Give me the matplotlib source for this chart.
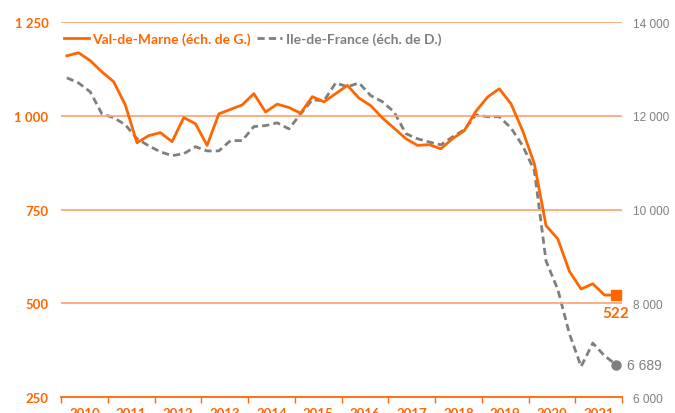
import numpy as np
import matplotlib
matplotlib.use("Agg")
import matplotlib.pyplot as plt
from matplotlib.lines import Line2D

plt.rcParams['font.family'] = ['Lato', 'DejaVu Sans']

# quarterly series, 2010 Q1 -> 2021 Q4
years = list(range(2010, 2022))
valDeMarne = [1160, 1168, 1147, 1117, 1091, 1029, 928, 947, 955, 931, 995, 979,
              921, 1005, 1017, 1029, 1059, 1010, 1031, 1022, 1007, 1051, 1037, 1059,
              1081, 1047, 1027, 994, 967, 939, 921, 923, 912, 939, 960, 1012,
              1050, 1072, 1032, 960, 872, 707, 672, 585, 538, 552, 522, 522]
ileDeFrance = [12810, 12700, 12510, 12040, 11960, 11810, 11510, 11360, 11230, 11150, 11190, 11340,
               11250, 11250, 11470, 11470, 11770, 11790, 11850, 11720, 12040, 12340, 12320, 12700,
               12620, 12700, 12430, 12300, 12080, 11620, 11510, 11440, 11380, 11550, 11700, 12020,
               11980, 11980, 11740, 11360, 10830, 8900, 8300, 7350, 6650, 7150, 6880, 6689]
leftTicks = [250, 500, 750, 1000, 1250]
rightTicks = [6000, 8000, 10000, 12000, 14000]

ORANGE = "#FF6600"
GRID = "#FBA878"
GREY = "#7F7F7F"
DASH = (2.6, 1.5)

def fmt(v):
    return f"{v:,}".replace(",", " ")

x = [years[0] + (i + 0.5) / 4 for i in range(len(valDeMarne))]

fig = plt.figure(figsize=(6.75, 4.14), dpi=100)
ax = fig.add_axes([0.0904, 0.0386, 0.8311, 0.9058])
ax2 = ax.twinx()
ax.set_zorder(ax2.get_zorder() + 1)
ax.patch.set_visible(False)

# gridlines from the left scale
for v in leftTicks[1:]:
    ax.axhline(v, color=GRID, lw=1.3, zorder=0)

ax.plot(x, valDeMarne, color=ORANGE, lw=2.0, zorder=3)
ax.plot(x[-1], valDeMarne[-1], marker="s", ms=7.5, color=ORANGE, zorder=4)
ax.annotate(fmt(valDeMarne[-1]), (x[-1], valDeMarne[-1]), xytext=(0, -8),
            textcoords="offset points", ha="center", va="top",
            color=ORANGE, fontsize=11, fontweight="bold")

ax2.plot(x, ileDeFrance, color=GREY, lw=2.0, dashes=DASH, zorder=2)
ax2.plot(x[-1], ileDeFrance[-1], marker="o", ms=6.5, color=GREY, zorder=3)
ax2.annotate(fmt(ileDeFrance[-1]), (x[-1], ileDeFrance[-1]), xytext=(8, 0),
             textcoords="offset points", ha="left", va="center",
             color=GREY, fontsize=10, family="Liberation Sans")

ax.set_xlim(years[0], years[-1] + 1)
ax.set_ylim(leftTicks[0], leftTicks[-1])
ax2.set_ylim(rightTicks[0], rightTicks[-1])

ax.set_yticks(leftTicks)
ax.set_yticklabels([fmt(v) for v in leftTicks])
ax2.set_yticks(rightTicks)
ax2.set_yticklabels([fmt(v) for v in rightTicks])
ax.tick_params(axis="y", length=0, pad=9, labelcolor=ORANGE, labelsize=9.5)
for t in ax.get_yticklabels():
    t.set_fontweight("bold")
ax2.tick_params(axis="y", length=0, pad=8, labelcolor=GREY, labelsize=8.5)
for t in ax2.get_yticklabels():
    t.set_family("Liberation Sans")

ax.set_xticks(range(years[0], years[-1] + 2))
ax.set_xticklabels([])
ax.set_xticks([y + 0.5 for y in years], minor=True)
ax.set_xticklabels([str(y) for y in years], minor=True)
ax.tick_params(axis="x", which="major", length=4, color=ORANGE, width=1)
ax.tick_params(axis="x", which="minor", length=0, pad=7, labelcolor=ORANGE, labelsize=9.5)
for t in ax.get_xticklabels(minor=True):
    t.set_fontweight("bold")

for a in (ax, ax2):
    for s in ("top", "left", "right", "bottom"):
        a.spines[s].set_visible(False)
ax.spines["bottom"].set_visible(True)
ax.spines["bottom"].set_color(ORANGE)
ax.spines["bottom"].set_linewidth(1.3)

handles = [Line2D([], [], color=ORANGE, lw=2.0),
           Line2D([], [], color=GREY, lw=2.0, dashes=DASH)]
leg = ax.legend(handles, ["Val-de-Marne (éch. de G.)", "Ile-de-France (éch. de D.)"],
                loc="center left", bbox_to_anchor=(0.005, 0.955), ncol=2, frameon=False,
                borderpad=0, borderaxespad=0,
                handlelength=1.8, handletextpad=0.25, columnspacing=0.45, fontsize=10)
leg.get_texts()[0].set_color(ORANGE)
leg.get_texts()[0].set_fontweight("bold")
leg.get_texts()[1].set_color(GREY)
leg.get_texts()[1].set_fontweight("bold")

plt.savefig("out.png", dpi=100)
